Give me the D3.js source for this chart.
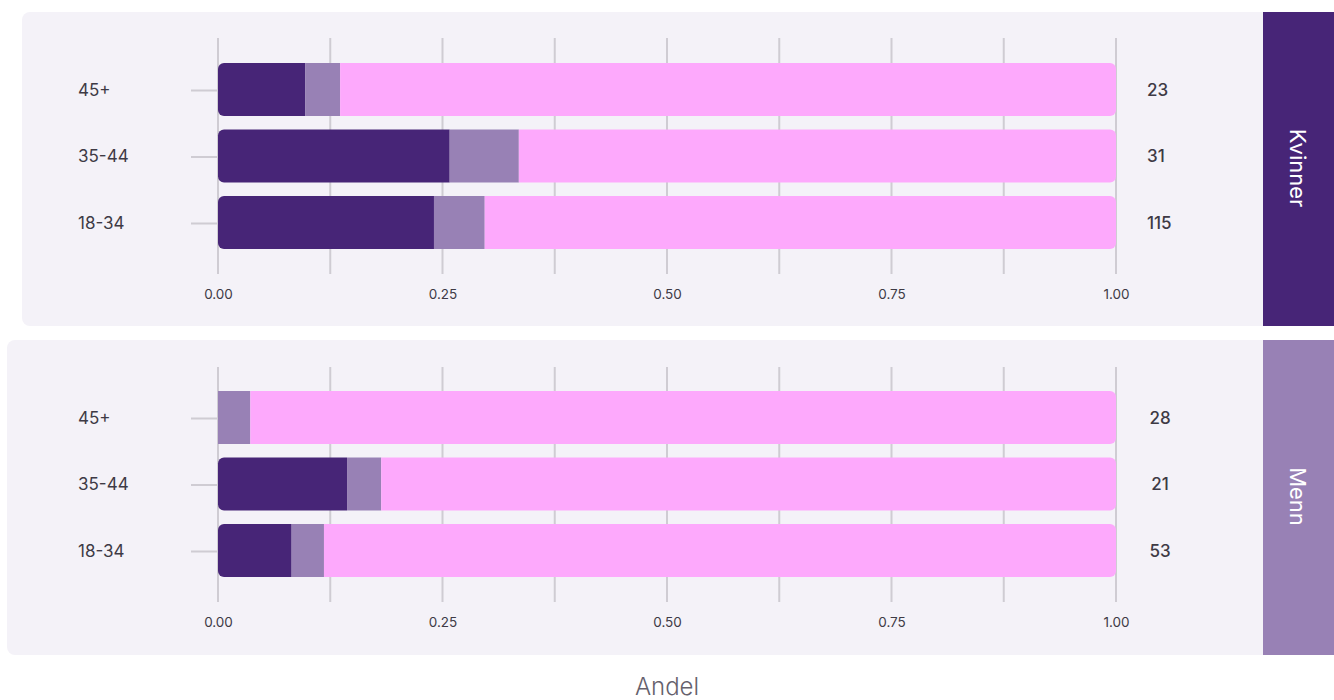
<!DOCTYPE html>
<html><head><meta charset="utf-8">
<script src="https://cdn.jsdelivr.net/npm/d3@7"></script>
<style>body{margin:0;background:#fff}svg{display:block;font-family:Inter,"Noto Sans",sans-serif}</style>
</head><body><svg id="c" width="1334" height="700"></svg>
<script>
const ageGroups = ["45+", "35-44", "18-34"];
const panels = ["Kvinner", "Menn"];
// shares per segment: dark, mid, pink
const darkShare = { Kvinner: [0.097, 0.258, 0.2405], Menn: [0.0, 0.1437, 0.082] };
const midShare  = { Kvinner: [0.039, 0.077, 0.0565], Menn: [0.036, 0.038, 0.036] };
const pinkShare = { Kvinner: [0.864, 0.665, 0.703], Menn: [0.964, 0.8183, 0.882] };
const counts    = { Kvinner: [23, 31, 115], Menn: [28, 21, 53] };
const xTicks = [0, 0.25, 0.5, 0.75, 1.0];
const gridVals = [0, 0.125, 0.25, 0.375, 0.5, 0.625, 0.75, 0.875, 1.0];
const segColors = ["#472577", "#9881b5", "#fda9fc"];
const stripColors = { Kvinner: "#472577", Menn: "#9881b5" };
const xTitle = "Andel";

const svg = d3.select("#c");
const x = d3.scaleLinear().domain([0, 1]).range([218, 1116]);
const layout = {
  Kvinner: { px: 22, py: 12, pb: 326, gridTop: 38, gridBot: 274, yTop: 89.5, yBot: 222.5, lab: 295, cx: 1147, anchor: "start" },
  Menn:    { px: 7,  py: 340, pb: 655, gridTop: 367, gridBot: 602, yTop: 417.5, yBot: 550.5, lab: 623, cx: 1160, anchor: "middle" }
};
const textCol = "#3e3a45";

function segPath(x0, x1, y0, h, rl, rr) {
  const p = d3.path();
  p.moveTo(x0 + rl, y0);
  p.lineTo(x1 - rr, y0);
  if (rr) p.arcTo(x1, y0, x1, y0 + rr, rr);
  p.lineTo(x1, y0 + h - rr);
  if (rr) p.arcTo(x1, y0 + h, x1 - rr, y0 + h, rr);
  p.lineTo(x0 + rl, y0 + h);
  if (rl) p.arcTo(x0, y0 + h, x0, y0 + h - rl, rl);
  p.lineTo(x0, y0 + rl);
  if (rl) p.arcTo(x0, y0, x0 + rl, y0, rl);
  p.closePath();
  return p.toString();
}

panels.forEach(name => {
  const L = layout[name];
  svg.append("path").attr("d", segPath(L.px, 1263, L.py, L.pb - L.py, 8, 0)).attr("fill", "#f4f2f8");
  svg.append("rect").attr("x", 1263).attr("y", L.py).attr("width", 71).attr("height", L.pb - L.py).attr("fill", stripColors[name]);
  svg.append("text").attr("transform", `translate(1298,${(L.py + L.pb) / 2 - 1}) rotate(90)`)
    .attr("text-anchor", "middle").attr("dominant-baseline", "central")
    .attr("fill", "#fff").attr("font-size", 22).text(name);

  const y = d3.scalePoint().domain(ageGroups).range([L.yTop, L.yBot]);
  const bw = 53;
  svg.append("g").selectAll("line").data(gridVals).join("line")
    .attr("x1", d => x(d)).attr("x2", d => x(d)).attr("y1", L.gridTop).attr("y2", L.gridBot)
    .attr("stroke", "#cfccd3").attr("stroke-width", 2);
  const ax = svg.append("g").attr("transform", `translate(0,${L.lab - 12})`)
    .call(d3.axisBottom(x).tickValues(xTicks).tickFormat(d3.format(".2f")).tickSize(0).tickPadding(6));
  ax.select(".domain").remove();
  ax.selectAll("text").attr("fill", textCol).attr("font-size", 13.5).attr("font-family", "Inter, sans-serif");

  ageGroups.forEach((g, i) => {
    const cy = y(g);
    const y0 = cy - bw / 2;
    svg.append("line").attr("x1", 191).attr("x2", 218).attr("y1", cy + 1).attr("y2", cy + 1)
      .attr("stroke", "#cfccd3").attr("stroke-width", 2);
    svg.append("text").attr("x", 78).attr("y", cy).attr("text-anchor", "start")
      .attr("dominant-baseline", "central").attr("fill", textCol).attr("font-size", 17).text(g);
    const vals = [darkShare[name][i], midShare[name][i], pinkShare[name][i]];
    let acc = 0;
    const segs = vals.map((v, k) => { const s = { a: acc, b: acc + v, k }; acc += v; return s; }).filter(s => s.b - s.a > 0);
    segs.forEach((s, j) => {
      const rl = j === 0 && s.k === 0 ? 6 : 0;
      const rr = j === segs.length - 1 ? 6 : 0;
      svg.append("path").attr("d", segPath(x(s.a), x(s.b), y0, bw, rl, rr)).attr("fill", segColors[s.k]);
    });
    svg.append("text").attr("x", L.cx).attr("y", cy).attr("text-anchor", L.anchor)
      .attr("dominant-baseline", "central").attr("fill", textCol).attr("font-size", 17)
      .attr("font-weight", 500).text(counts[name][i]);
  });
});

svg.append("text").attr("x", 667).attr("y", 695).attr("text-anchor", "middle")
  .attr("fill", "#65616c").attr("font-size", 24).attr("font-weight", 300).text(xTitle);
</script></body></html>
